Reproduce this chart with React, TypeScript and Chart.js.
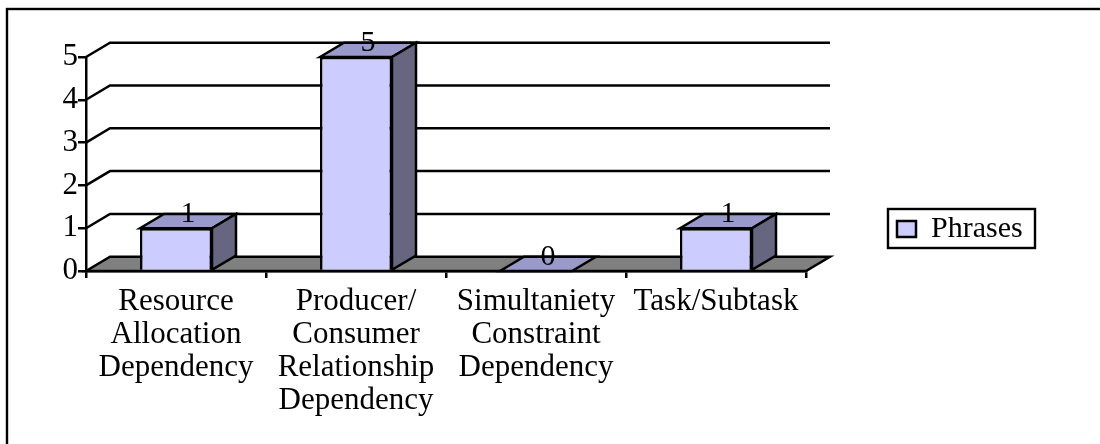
import React, { useEffect, useRef } from "react";
import { Chart, registerables } from "chart.js";

Chart.register(...registerables);

const categories = [
  ["Resource", "Allocation", "Dependency"],
  ["Producer/", "Consumer", "Relationship", "Dependency"],
  ["Simultaniety", "Constraint", "Dependency"],
  ["Task/Subtask"],
];
const phrases = [1, 5, 0, 1];
const seriesName = "Phrases";
const yTicks = [0, 1, 2, 3, 4, 5];

const FONT = "'Liberation Serif'";
const DX = 24;
const DY = 14.3;
const FRONT = "#ccccff";
const TOP = "#9999cc";
const SIDE = "#666680";
const FLOOR = "#808080";
const INK = "#000000";
const LW = 2.5;

function poly(ctx: CanvasRenderingContext2D, pts: number[][], fill?: string) {
  ctx.beginPath();
  pts.forEach((p, i) => (i ? ctx.lineTo(p[0], p[1]) : ctx.moveTo(p[0], p[1])));
  ctx.closePath();
  if (fill) {
    ctx.fillStyle = fill;
    ctx.fill();
  }
  ctx.stroke();
}

const depthPlugin = {
  id: "depth",
  afterLayout(chart: any) {
    const l = chart.legend;
    if (l) {
      l.left = 890;
      l.right = 1035;
      l.top = 207;
      l.bottom = 248;
      l.width = 145;
      l.height = 41;
    }
  },
  beforeDraw(chart: any) {
    const { ctx, width, height } = chart;
    ctx.save();
    ctx.fillStyle = "#ffffff";
    ctx.fillRect(0, 0, width, height);
    ctx.strokeStyle = INK;
    ctx.lineWidth = 2.4;
    ctx.strokeRect(7, 9, 1120, 500);
    ctx.restore();
  },
  beforeDatasetsDraw(chart: any) {
    const { ctx, scales } = chart;
    const y = scales.y;
    const left = chart.chartArea.left;
    const right = chart.chartArea.right;
    const y0 = y.getPixelForValue(0);
    ctx.save();
    ctx.strokeStyle = INK;
    ctx.lineWidth = LW;
    ctx.lineJoin = "miter";
    poly(ctx, [[left, y0], [left + DX, y0 - DY], [right + DX, y0 - DY], [right, y0]], FLOOR);
    yTicks.slice(1).forEach((t) => {
      const py = y.getPixelForValue(t);
      ctx.beginPath();
      ctx.moveTo(left, py);
      ctx.lineTo(left + DX, py - DY);
      ctx.lineTo(right + DX, py - DY);
      ctx.stroke();
    });
    chart.getDatasetMeta(0).data.forEach((bar: any) => {
      const x0 = bar.x - bar.width / 2;
      const x1 = bar.x + bar.width / 2;
      const top = bar.y;
      const base = bar.base;
      poly(ctx, [[x0, top], [x0 + DX, top - DY], [x1 + DX, top - DY], [x1, top]], TOP);
      if (base - top > 0) {
        poly(ctx, [[x1, top], [x1 + DX, top - DY], [x1 + DX, base - DY], [x1, base]], SIDE);
      }
    });
    ctx.restore();
  },
  afterDatasetsDraw(chart: any) {
    const { ctx } = chart;
    ctx.save();
    ctx.fillStyle = INK;
    ctx.font = `30px ${FONT}`;
    ctx.textAlign = "center";
    ctx.textBaseline = "middle";
    chart.getDatasetMeta(0).data.forEach((bar: any, i: number) => {
      ctx.fillText(String(phrases[i]), bar.x + DX / 2, bar.y - DY / 2 - 7);
    });
    ctx.restore();
  },
  afterDraw(chart: any) {
    const { ctx } = chart;
    ctx.save();
    ctx.strokeStyle = INK;
    ctx.lineWidth = 2.4;
    ctx.strokeRect(888, 209, 147, 39);
    ctx.restore();
  },
};

export default function App() {
  const ref = useRef<HTMLCanvasElement>(null);
  useEffect(() => {
    const chart = new Chart(ref.current!, {
      type: "bar",
      data: {
        labels: categories,
        datasets: [
          {
            label: seriesName,
            data: phrases,
            backgroundColor: FRONT,
            borderColor: INK,
            borderWidth: LW,
            categoryPercentage: 0.4,
            barPercentage: 1,
            inflateAmount: 0,
          } as any,
        ],
      },
      plugins: [depthPlugin as any],
      options: {
        responsive: false,
        animation: false,
        layout: { padding: { left: 0, top: 57, right: 294, bottom: 0 } },
        plugins: {
          tooltip: { enabled: false },
          legend: {
            position: "chartArea" as any,
            align: "start",
            labels: {
              color: INK,
              font: { family: FONT, size: 30 },
              boxWidth: 19,
              boxHeight: 16,
              padding: 7,
            },
          },
        },
        scales: {
          x: {
            afterFit: (s: any) => {
              s.height = 173;
            },
            border: { color: INK, width: LW },
            grid: { offset: true, drawOnChartArea: false, color: INK, lineWidth: LW, tickLength: 7 },
            ticks: {
              color: INK,
              maxRotation: 0,
              autoSkip: false,
              padding: 7,
              font: { family: FONT, size: 31, lineHeight: 33 / 31 },
            },
          },
          y: {
            min: 0,
            max: 5,
            afterFit: (s: any) => {
              s.width = 86;
            },
            afterBuildTicks: (s: any) => {
              s.ticks = yTicks.map((value) => ({ value }));
            },
            border: { color: INK, width: LW },
            grid: { drawOnChartArea: false, color: INK, lineWidth: LW, tickLength: 8 },
            ticks: {
              color: INK,
              padding: 0,
              font: { family: FONT, size: 31 },
            },
          },
        },
      },
    });
    return () => chart.destroy();
  }, []);
  return (
    <div style={{ position: "fixed", left: 0, top: 0 }}>
      <canvas ref={ref} width={1100} height={444} style={{ display: "block" }} />
    </div>
  );
}
